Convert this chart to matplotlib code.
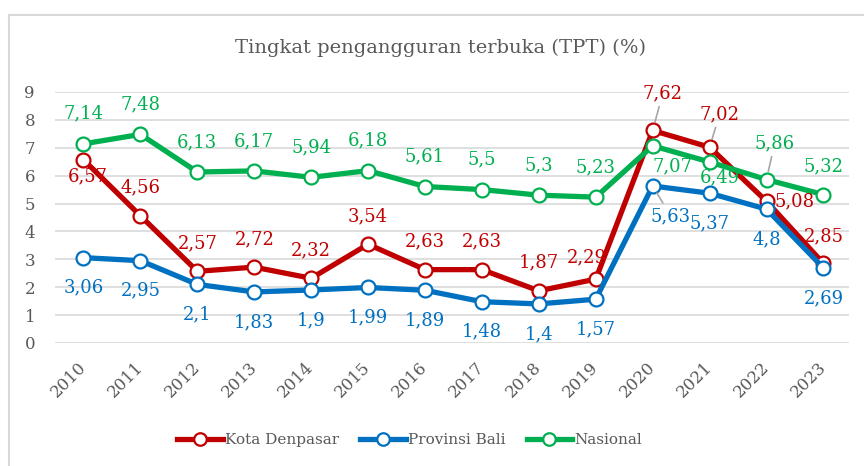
import numpy as np
import matplotlib.pyplot as plt
from matplotlib.lines import Line2D

plt.rcParams['font.family'] = ['DejaVu Serif']

years = ['2010', '2011', '2012', '2013', '2014', '2015', '2016',
         '2017', '2018', '2019', '2020', '2021', '2022', '2023']
denpasar = [6.57, 4.56, 2.57, 2.72, 2.32, 3.54, 2.63, 2.63, 1.87, 2.29, 7.62, 7.02, 5.08, 2.85]
bali = [3.06, 2.95, 2.1, 1.83, 1.9, 1.99, 1.89, 1.48, 1.4, 1.57, 5.63, 5.37, 4.8, 2.69]
nasional = [7.14, 7.48, 6.13, 6.17, 5.94, 6.18, 5.61, 5.5, 5.3, 5.23, 7.07, 6.49, 5.86, 5.32]

red = '#C00000'
blue = '#0070C0'
green = '#00B050'
grey = '#595959'

fig = plt.figure(figsize=(8.64, 4.66), dpi=100)
ax = fig.add_axes([0.0637, 0.264, 0.919, 0.5386])

x = np.arange(len(years))
series = [('Kota Denpasar', denpasar, red),
          ('Provinsi Bali', bali, blue),
          ('Nasional', nasional, green)]
for name, vals, col in series:
    ax.plot(x, vals, color=col, lw=3.8, marker='o', ms=10, mfc='white',
            mec=col, mew=1.6, label=name, zorder=3, solid_capstyle='round')

ax.set_xlim(-0.5, 13.45)
ax.set_ylim(0, 9)
ax.set_yticks(range(10))
ax.grid(axis='y', color='#D9D9D9', lw=1.2)
ax.set_axisbelow(True)
for s in ax.spines.values():
    s.set_visible(False)
ax.tick_params(length=0, labelsize=12, labelcolor=grey)
ax.tick_params(axis='y', pad=22)
ax.set_xticks(x)
ax.set_xticklabels(years, rotation=45, ha='right', va='center',
                   rotation_mode='anchor')
ax.tick_params(axis='x', pad=16)
for lbl in ax.get_yticklabels():
    lbl.set_horizontalalignment('left')

fmt = lambda v: f'{v:g}'.replace('.', ',')

# label offsets in pixels (dx, dy); default above for red/green, below for blue
def offs(name, i):
    if name == 'Kota Denpasar':
        special = {0: (4, -17), 9: (-9, 22), 10: (10, 37), 11: (10, 33),
                   12: (28, 0), 13: (0, 27)}
        return special.get(i, (0, 28))
    if name == 'Provinsi Bali':
        special = {10: (18, -30), 12: (0, -30)}
        return special.get(i, (0, -30))
    special = {10: (20, -21), 11: (10, -15), 12: (8, 36), 13: (0, 28)}
    return special.get(i, (0, 30))

leaders = {('Kota Denpasar', 10), ('Kota Denpasar', 11),
           ('Provinsi Bali', 10), ('Nasional', 12)}

for name, vals, col in series:
    for i, v in enumerate(vals):
        dx, dy = offs(name, i)
        ap = None
        if (name, i) in leaders:
            ap = dict(arrowstyle='-', color='#A6A6A6', lw=1.2,
                      shrinkA=1, shrinkB=6)
        ax.annotate(fmt(v), (i, v), xytext=(dx, dy), textcoords='offset pixels',
                    ha='center', va='center', color=col, fontsize=13,
                    arrowprops=ap, zorder=4)

fig.text(0.51, 0.897, 'Tingkat pengangguran terbuka (TPT) (%)',
         ha='center', va='center', fontsize=14, color=grey)

handles = [Line2D([], [], color=c, lw=3.8, marker='o', ms=9, mfc='white',
                  mec=c, mew=1.6) for _, _, c in series]
leg = fig.legend(handles, [s[0] for s in series], loc='center',
                 bbox_to_anchor=(0.474, 0.056), ncol=3, frameon=False,
                 fontsize=11, handlelength=3.0, handletextpad=0.1,
                 columnspacing=1.4)
for t in leg.get_texts():
    t.set_color(grey)

# outer chart frame
fig.add_artist(Line2D([9 / 864, 9 / 864], [0, 1 - 15 / 466],
                      transform=fig.transFigure, color='#D9D9D9', lw=1.5))
fig.add_artist(Line2D([9 / 864, 1], [1 - 15 / 466, 1 - 15 / 466],
                      transform=fig.transFigure, color='#D9D9D9', lw=1.5))

fig.savefig('out.png', dpi=100)
